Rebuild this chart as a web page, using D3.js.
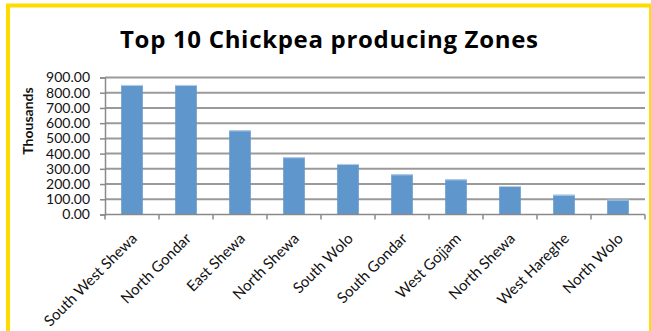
<!DOCTYPE html>
<html>
<head>
<meta charset="utf-8">
<script src="https://cdn.jsdelivr.net/npm/d3@7/dist/d3.min.js"></script>
<style>
  html, body { margin: 0; padding: 0; background: #fff; }
  svg { display: block; }
</style>
</head>
<body>
<svg id="chart" width="651" height="331"></svg>
<script>
const title = "Top 10 Chickpea producing Zones";
const yAxisTitle = "Thousands";
const zones = ["South West Shewa", "North Gondar", "East Shewa", "North Shewa", "South Wolo",
               "South Gondar", "West Gojjam", "North Shewa", "West Hareghe", "North Wolo"];
const production = [851, 851, 553, 376, 332, 264, 231, 187, 130, 98];
const yTicks = [0, 100, 200, 300, 400, 500, 600, 700, 800, 900];

(function () {
const svg = d3.select("#chart");
const W = 651, H = 331;
const pLeft = 105, pRight = 645, pTop = 77.5, pBottom = 214.5;

svg.append("rect").attr("x", 0).attr("y", 0).attr("width", W).attr("height", H).attr("fill", "#fff");

const x = d3.scaleBand().domain(d3.range(zones.length)).range([pLeft, pRight]).paddingInner(0.6).paddingOuter(0.3);
const band = d3.scaleBand().domain(d3.range(zones.length)).range([pLeft, pRight]);
const y = d3.scaleLinear().domain([0, 900]).range([pBottom, pTop]);

// gridlines
svg.append("g").selectAll("line").data(yTicks.filter(d => d > 0)).join("line")
  .attr("x1", pLeft).attr("x2", pRight)
  .attr("y1", d => y(d)).attr("y2", d => y(d))
  .attr("stroke", "#9a9a9a").attr("stroke-width", 2);

// y axis
const yAxis = svg.append("g").attr("transform", `translate(${pLeft},0)`)
  .call(d3.axisLeft(y).tickValues(yTicks).tickFormat(d3.format(".2f")).tickSize(5).tickPadding(10));
yAxis.select(".domain").attr("stroke", "#8a8a8a").attr("stroke-width", 1.5);
yAxis.selectAll(".tick line").attr("stroke", "#8a8a8a").attr("stroke-width", 1.5);
yAxis.selectAll(".tick text").attr("font-family", "Lato, 'Open Sans', sans-serif").attr("font-size", 14).attr("fill", "#111");

// bars
svg.append("g").selectAll("rect").data(production).join("rect")
  .attr("x", (d, i) => x(i)).attr("width", x.bandwidth())
  .attr("y", d => y(d)).attr("height", d => pBottom - y(d))
  .attr("fill", "#5f96cb");
svg.append("g").selectAll("line").data(production).join("line")
  .attr("x1", (d, i) => x(i)).attr("x2", (d, i) => x(i) + x.bandwidth())
  .attr("y1", d => y(d) + 0.5).attr("y2", d => y(d) + 0.5)
  .attr("stroke", "#b8d0ea").attr("stroke-width", 1);

// x axis
const xAxis = svg.append("g").attr("transform", `translate(0,${pBottom})`);
xAxis.append("line").attr("x1", pLeft).attr("x2", pRight).attr("y1", 0).attr("y2", 0)
  .attr("stroke", "#8a8a8a").attr("stroke-width", 1.5);
xAxis.selectAll("line.tk").data(d3.range(zones.length + 1)).join("line").attr("class", "tk")
  .attr("x1", i => i < zones.length ? band(i) : pRight).attr("x2", i => i < zones.length ? band(i) : pRight)
  .attr("y1", 0).attr("y2", 5).attr("stroke", "#8a8a8a").attr("stroke-width", 1.5);
svg.append("g").selectAll("text").data(zones).join("text")
  .attr("transform", (d, i) => `translate(${band(i) + band.bandwidth() / 2 + 6},${pBottom + 25}) rotate(-45)`)
  .attr("text-anchor", "end")
  .attr("font-family", "Lato, 'Open Sans', sans-serif").attr("font-size", 15).attr("fill", "#111")
  .text(d => d);

// y axis title
svg.append("text")
  .attr("transform", `translate(33,121) rotate(-90)`)
  .attr("text-anchor", "middle")
  .attr("font-family", "Lato, 'Open Sans', sans-serif").attr("font-weight", "bold").attr("font-size", 14)
  .attr("fill", "#111").text(yAxisTitle);

// title
svg.append("text")
  .attr("x", 329).attr("y", 48)
  .attr("text-anchor", "middle")
  .attr("font-family", "'Open Sans', Lato, sans-serif").attr("font-weight", "bold").attr("font-size", 24)
  .attr("textLength", 418)
  .attr("fill", "#000").text(title);

// yellow frame
svg.append("rect").attr("x", 8).attr("y", 5.5).attr("width", 643).attr("height", 340)
  .attr("fill", "none").attr("stroke", "#ffdc00").attr("stroke-width", 4);
})();
</script>
</body>
</html>
